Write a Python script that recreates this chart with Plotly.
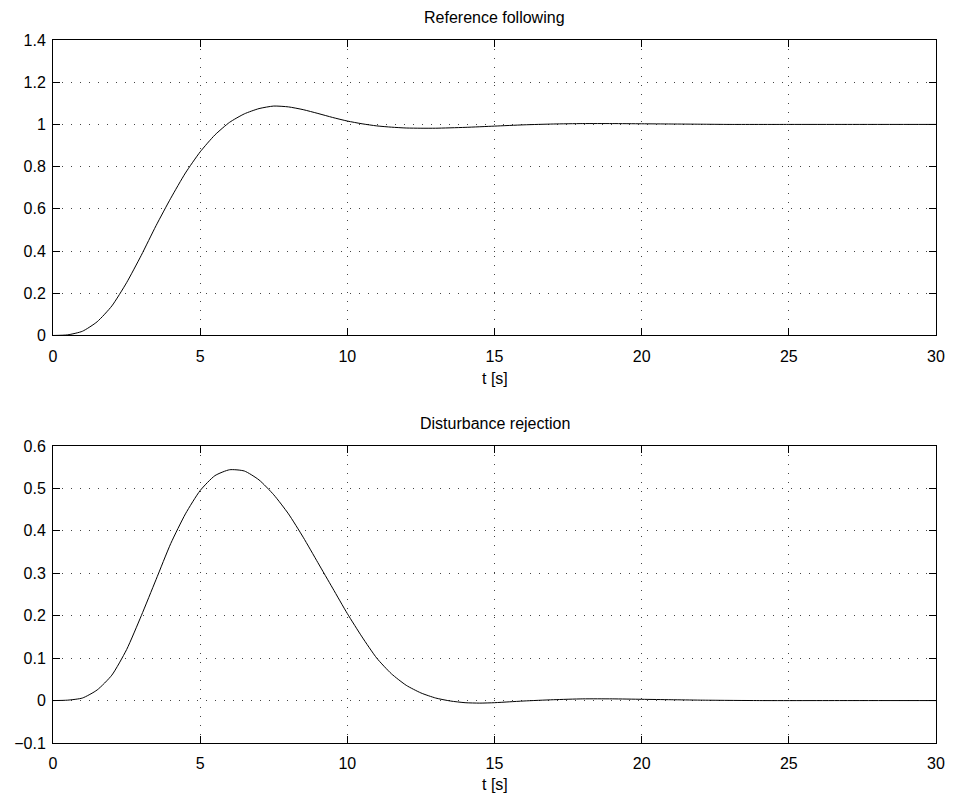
import plotly.graph_objects as go

# ---- data ----
t_ref = [0, 0.5, 1, 1.5, 2, 2.5, 3, 3.5, 4, 4.5, 5, 5.5, 6, 6.5, 7, 7.5, 8, 8.5, 9, 9.5,
         10, 10.5, 11, 11.5, 12, 12.5, 13, 14, 15, 16, 17, 18, 19, 20, 21, 22, 23, 25, 27, 30]
y_ref = [0, 0.003, 0.02, 0.065, 0.14, 0.25, 0.38, 0.52, 0.65, 0.77, 0.87, 0.95, 1.01, 1.05,
         1.075, 1.087, 1.083, 1.07, 1.052, 1.033, 1.016, 1.003, 0.993, 0.987, 0.983, 0.982,
         0.982, 0.986, 0.992, 0.998, 1.002, 1.004, 1.004, 1.003, 1.002, 1.001, 1.0, 1.0, 1.0, 1.0]

t_dist = [0, 0.5, 1, 1.5, 2, 2.5, 3, 3.5, 4, 4.5, 5, 5.5, 6, 6.5, 7, 7.5, 8, 8.5, 9, 9.5,
          10, 10.5, 11, 11.5, 12, 12.5, 13, 13.5, 14, 14.5, 15, 15.5, 16, 17, 18, 19, 20, 21,
          22, 24, 27, 30]
y_dist = [0, 0.001, 0.006, 0.025, 0.06, 0.12, 0.2, 0.285, 0.37, 0.44, 0.495, 0.53, 0.544,
          0.541, 0.52, 0.485, 0.44, 0.385, 0.325, 0.265, 0.205, 0.15, 0.1, 0.063, 0.036, 0.018,
          0.006, -0.001, -0.005, -0.006, -0.005, -0.003, -0.001, 0.002, 0.004, 0.004, 0.003,
          0.002, 0.001, 0.0, 0.0, 0.0]

x_ticks = [0, 5, 10, 15, 20, 25, 30]
y1_ticks = [0, 0.2, 0.4, 0.6, 0.8, 1.0, 1.2, 1.4]
y1_text = ["0", "0.2", "0.4", "0.6", "0.8", "1", "1.2", "1.4"]
y2_ticks = [-0.1, 0, 0.1, 0.2, 0.3, 0.4, 0.5, 0.6]
y2_text = ["\u22120.1", "0", "0.1", "0.2", "0.3", "0.4", "0.5", "0.6"]

FONT = "Liberation Sans, Arial, Helvetica, sans-serif"

fig = go.Figure()
fig.add_trace(go.Scatter(x=t_ref, y=y_ref, mode="lines", line=dict(color="black", width=1, shape="spline", smoothing=0.6),
                         xaxis="x", yaxis="y", showlegend=False))
fig.add_trace(go.Scatter(x=t_dist, y=y_dist, mode="lines", line=dict(color="black", width=1, shape="spline", smoothing=0.6),
                         xaxis="x2", yaxis="y2", showlegend=False))

axis_common = dict(showline=True, linecolor="black", linewidth=1, mirror="ticks",
                   ticks="inside", ticklen=7, tickcolor="black", tickwidth=1,
                   showgrid=True, gridcolor="#444", griddash="1px,8px", gridwidth=1,
                   zeroline=False, tickfont=dict(family=FONT, size=16, color="black"))

fig.update_layout(
    width=957, height=798,
    margin=dict(l=53, r=14, t=40, b=55),
    paper_bgcolor="white", plot_bgcolor="white",
    font=dict(family=FONT, size=16, color="black"),
    xaxis=dict(domain=[0, 1], range=[0, 30], tickvals=x_ticks, anchor="y",
               ticklabelstandoff=6, **axis_common),
    yaxis=dict(domain=[0.5797, 1], range=[0, 1.4], tickvals=y1_ticks, ticktext=y1_text,
               anchor="x", ticklabelstandoff=3, **axis_common),
    xaxis2=dict(domain=[0, 1], range=[0, 30], tickvals=x_ticks, anchor="y2",
                ticklabelstandoff=6, **axis_common),
    yaxis2=dict(domain=[0, 0.4225], range=[-0.1, 0.6], tickvals=y2_ticks, ticktext=y2_text,
                anchor="x2", ticklabelstandoff=3, **axis_common),
    annotations=[
        dict(text="Reference following", x=0.5, y=1.0327, xref="paper", yref="paper",
             showarrow=False, xanchor="center", yanchor="middle", font=dict(family=FONT, size=16)),
        dict(text="t [s]", x=0.5, y=0.519, xref="paper", yref="paper",
             showarrow=False, xanchor="center", yanchor="middle", font=dict(family=FONT, size=16)),
        dict(text="Disturbance rejection", x=0.5, y=0.455, xref="paper", yref="paper",
             showarrow=False, xanchor="center", yanchor="middle", font=dict(family=FONT, size=16)),
        dict(text="t [s]", x=0.5, y=-0.0597, xref="paper", yref="paper",
             showarrow=False, xanchor="center", yanchor="middle", font=dict(family=FONT, size=16)),
    ],
)

fig.write_html("out.html")
